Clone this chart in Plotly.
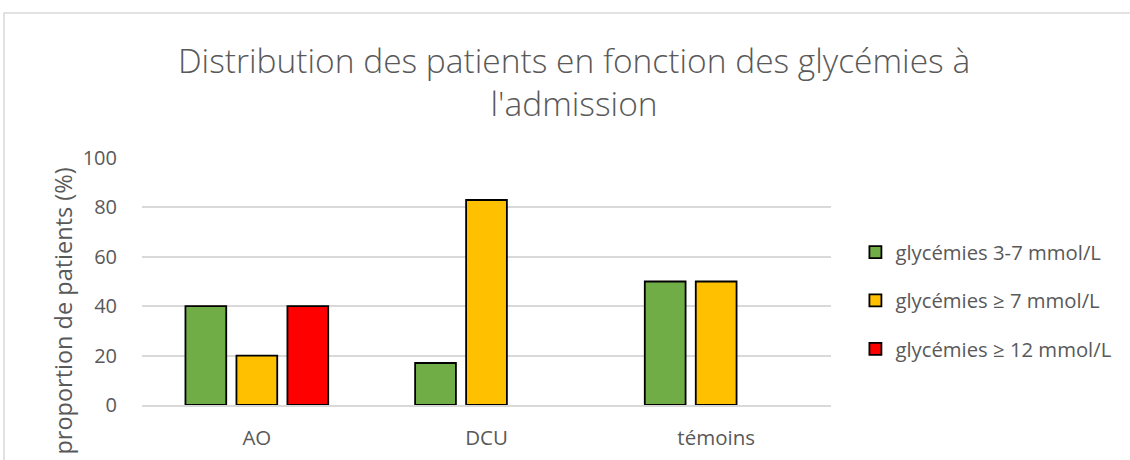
import plotly.graph_objects as go

categories = ["AO", "DCU", "témoins"]
series_names = ["glycémies 3-7 mmol/L", "glycémies ≥ 7 mmol/L", "glycémies ≥ 12 mmol/L"]
vals_3_7 = [40, 17, 50]
vals_ge7 = [20, 83, 50]
vals_ge12 = [40, None, None]
colors = ["#70AD47", "#FFC000", "#FF0000"]

font_fam = "Open Sans, sans-serif"
grey = "#595959"

fig = go.Figure()
for i, (name, vals) in enumerate(zip(series_names, [vals_3_7, vals_ge7, vals_ge12])):
    fig.add_trace(go.Bar(
        x=categories, y=vals, name=name, legendgroup=name,
        marker=dict(color=colors[i], line=dict(color="black", width=1.8)),
    ))

fig.update_layout(
    width=1130, height=460,
    margin=dict(l=142, r=299, t=158, b=55, autoexpand=False),
    paper_bgcolor="white", plot_bgcolor="white",
    barmode="group", bargap=0.334, bargroupgap=0.2,
    title=dict(
        text="Distribution des patients en fonction des glycémies à<br>l'admission",
        x=0.508, xref="container", xanchor="center",
        y=0.842, yref="container", yanchor="top",
        font=dict(family=font_fam, size=33.5, color=grey, weight=300),
    ),
    font=dict(family=font_fam, color=grey),
    legend=dict(
        x=0.757, y=0.346, xref="container", yref="container",
        xanchor="left", yanchor="middle",
        font=dict(size=20.3, color=grey), tracegroupgap=19,
        itemwidth=30,
    ),
    shapes=[dict(type="rect", xref="paper", yref="paper",
                 x0=-0.2003, x1=1.6, y0=-0.5, y1=1.587,
                 line=dict(color="#D9D9D9", width=1.5))],
    annotations=[dict(text="proportion de patients (%)", textangle=-90,
                      xref="paper", yref="paper", x=-0.114, y=0.38,
                      xanchor="center", yanchor="middle", showarrow=False,
                      font=dict(size=23.5, color=grey))],
)
fig.update_yaxes(
    range=[0, 100], dtick=20, showgrid=True, gridcolor="#D9D9D9", gridwidth=1.5,
    zeroline=False, showline=False, ticks="", ticklen=0, automargin=False,
    tickfont=dict(size=20, color=grey), ticklabelstandoff=24,
)
fig.update_xaxes(
    showline=True, linecolor="#D9D9D9", linewidth=1.5, automargin=False,
    tickfont=dict(size=20.5, color=grey), ticks="", ticklabelstandoff=14,
)
fig.write_html("out.html", config={"displayModeBar": False},
               post_script="document.body.style.margin='0';")
